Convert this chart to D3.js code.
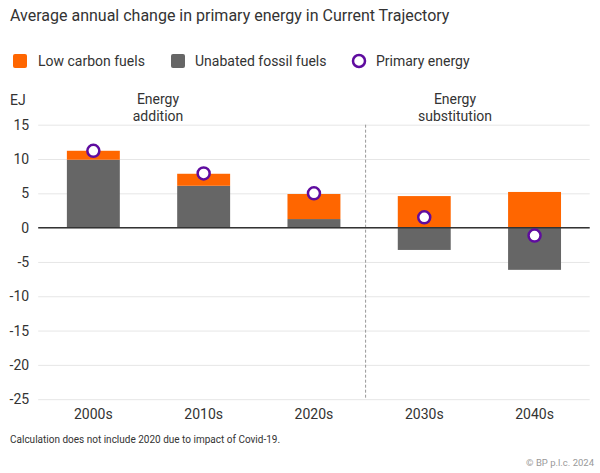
<!DOCTYPE html>
<html><head><meta charset="utf-8">
<script src="https://cdn.jsdelivr.net/npm/d3@7"></script>
<style>body{margin:0;background:#fff}svg{font-family:Roboto,"Noto Sans",sans-serif}</style>
</head><body><svg id="c" width="600" height="473"></svg>
<script>
const categories = ["2000s","2010s","2020s","2030s","2040s"];
const lowCarbon = [1.3, 1.75, 3.65, 4.6, 5.2];
const fossil = [9.9, 6.1, 1.25, -3.25, -6.15];
const primary = [11.2, 7.9, 5.0, 1.5, -1.15];
const yTicks = [15,10,5,0,-5,-10,-15,-20,-25];
const colors = {low:"#ff6600", fossil:"#666666", primary:"#5f0c9f"};

const svg = d3.select("#c");
const x = d3.scaleBand().domain(categories).range([38.2, 589.7]).paddingInner(0.52).paddingOuter(0.26);
const y = d3.scaleLinear().domain([-25,15]).range([399.2,124.7]);

svg.append("text").attr("x",10).attr("y",21).attr("font-size",16).attr("fill","#333")
  .text("Average annual change in primary energy in Current Trajectory");

// legend
const lg = svg.append("g");
lg.append("rect").attr("x",13).attr("y",54).attr("width",14).attr("height",14).attr("rx",2).attr("fill",colors.low);
lg.append("text").attr("x",38).attr("y",66).attr("font-size",14).attr("fill","#333").text("Low carbon fuels");
lg.append("rect").attr("x",171).attr("y",54).attr("width",14).attr("height",14).attr("rx",2).attr("fill",colors.fossil);
lg.append("text").attr("x",195).attr("y",66).attr("font-size",14).attr("fill","#333").text("Unabated fossil fuels");
lg.append("circle").attr("cx",359).attr("cy",61).attr("r",6).attr("fill","#fff").attr("stroke",colors.primary).attr("stroke-width",2.5);
lg.append("text").attr("x",376).attr("y",66).attr("font-size",14).attr("fill","#333").text("Primary energy");

svg.append("text").attr("x",10).attr("y",105).attr("font-size",14).attr("fill","#333").text("EJ");

// grid
const ga = d3.axisLeft(y).tickValues(yTicks).tickSize(-(589.7-38.2)).tickPadding(9).tickFormat(d => String(d));
const g = svg.append("g").attr("transform","translate(38.2,0)").call(ga);
g.select(".domain").remove();
g.selectAll(".tick line").attr("stroke","#e6e6e6").attr("stroke-width",1);
g.selectAll(".tick text").attr("font-size",14).attr("fill","#333").attr("font-family","Roboto,sans-serif");

// separator
const sepX = x("2030s") - x.step()*x.paddingInner()/2 - 3.5;
svg.append("line").attr("x1",sepX).attr("x2",sepX).attr("y1",124.7).attr("y2",399.2)
  .attr("stroke","#999").attr("stroke-dasharray","3,2").attr("stroke-width",1);

// annotations
[["Energy","addition",158],["Energy","substitution",455]].forEach(([a,b,cx])=>{
  const t = svg.append("text").attr("text-anchor","middle").attr("font-size",14).attr("fill","#333");
  t.append("tspan").attr("x",cx).attr("y",104).text(a);
  t.append("tspan").attr("x",cx).attr("y",121).text(b);
});

// bars
categories.forEach((c,i)=>{
  const f = fossil[i], l = lowCarbon[i];
  svg.append("rect").attr("x",x(c)).attr("width",x.bandwidth())
    .attr("y",y(Math.max(0,f))).attr("height",Math.abs(y(f)-y(0))).attr("fill",colors.fossil);
  const base = f>0 ? f : 0;
  svg.append("rect").attr("x",x(c)).attr("width",x.bandwidth())
    .attr("y",y(base+l)).attr("height",y(base)-y(base+l)).attr("fill",colors.low);
});

// zero line
svg.append("line").attr("x1",38.2).attr("x2",589.7).attr("y1",y(0)).attr("y2",y(0)).attr("stroke","#333").attr("stroke-width",1.5);

// points
svg.selectAll("circle.p").data(primary).join("circle").attr("class","p")
  .attr("cx",(d,i)=>x(categories[i])+x.bandwidth()/2).attr("cy",d=>y(d)).attr("r",6)
  .attr("fill","#fff").attr("stroke",colors.primary).attr("stroke-width",2.5);

// x axis
const xa = svg.append("g").attr("transform","translate(0,399.2)").call(d3.axisBottom(x).tickSize(0).tickPadding(10));
xa.select(".domain").remove();
xa.selectAll("text").attr("font-size",14).attr("fill","#333").attr("font-family","Roboto,sans-serif");

svg.append("text").attr("x",10).attr("y",443).attr("font-size",10).attr("fill","#333")
  .text("Calculation does not include 2020 due to impact of Covid-19.");
svg.append("text").attr("x",594).attr("y",466).attr("text-anchor","end").attr("font-size",9.5).attr("fill","#999")
  .text("© BP p.l.c. 2024");
</script></body></html>
